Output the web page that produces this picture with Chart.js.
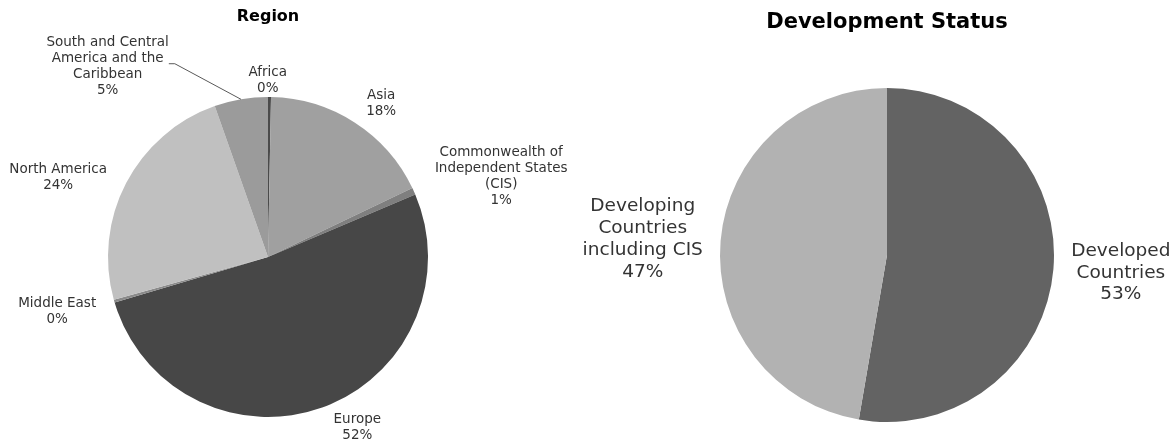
<!DOCTYPE html>
<html>
<head>
<meta charset="utf-8">
<script src="https://cdn.jsdelivr.net/npm/chart.js@4.4.1/dist/chart.umd.min.js"></script>
<style>
  html, body { margin: 0; padding: 0; background: #fff; }
  #wrap { position: relative; width: 1173px; height: 443px; overflow: hidden; }
  #regionChart { position: absolute; left: 0; top: 0; }
  #statusChart { position: absolute; left: 580px; top: 0; }
</style>
</head>
<body>
<div id="wrap">
  <canvas id="regionChart" width="580" height="443"></canvas>
  <canvas id="statusChart" width="593" height="443"></canvas>
</div>
<script>
// Data (shares in %)
const regionNames = [
  "Africa",
  "Asia",
  "Commonwealth of\nIndependent States\n(CIS)",
  "Europe",
  "Middle East",
  "North America",
  "South and Central\nAmerica and the\nCaribbean"
];
const regionShares = [0.3, 17.6, 0.7, 51.8, 0.3, 23.9, 5.4];
const regionColors = ["#4a4a4a", "#a0a0a0", "#7f7f7f", "#474747", "#8a8a8a", "#c0c0c0", "#9b9b9b"];

const statusNames = ["Developed\nCountries", "Developing\nCountries\nincluding CIS"];
const statusShares = [52.7, 47.3];
const statusColors = ["#636363", "#b2b2b2"];

const FONT = '"DejaVu Sans", Verdana, sans-serif';

// Excel-style outside labels: name + rounded percent, placed beyond the arc
const outsideLabels = {
  id: "outsideLabels",
  afterDatasetsDraw(chart, args, opts) {
    const ctx = chart.ctx;
    const meta = chart.getDatasetMeta(0);
    const values = chart.data.datasets[0].data;
    const total = values.reduce((a, b) => a + b, 0);
    const lh = opts.lineHeight;
    ctx.save();
    ctx.font = opts.size + "px " + FONT;
    ctx.fillStyle = "#333333";
    ctx.textAlign = "center";
    ctx.textBaseline = "middle";
    meta.data.forEach((arc, i) => {
      const p = arc.getProps(["x", "y", "startAngle", "endAngle", "outerRadius"], true);
      const mid = (p.startAngle + p.endAngle) / 2;
      const cos = Math.cos(mid), sin = Math.sin(mid);
      const lines = chart.data.labels[i].split("\n");
      lines.push(Math.round(values[i] / total * 100) + "%");
      const w = Math.max(...lines.map(t => ctx.measureText(t).width));
      const h = lines.length * lh;
      const d = p.outerRadius + opts.gap;
      const nudge = (opts.nudge && opts.nudge[i]) || [0, 0];
      const cx = p.x + cos * d + cos * w / 2 + nudge[0];
      const cy = p.y + sin * d + sin * h / 2 + nudge[1];
      const top = cy - h / 2;
      lines.forEach((t, k) => ctx.fillText(t, cx, top + lh * k + lh / 2));

      if (opts.leader && opts.leader[i]) {
        const ex = p.x + cos * p.outerRadius;
        const ey = p.y + sin * p.outerRadius;
        const right = cx + w / 2;
        const ly = top + lh * 1.8;
        ctx.strokeStyle = "#595959";
        ctx.lineWidth = 1;
        ctx.beginPath();
        ctx.moveTo(ex, ey);
        ctx.lineTo(right + 6, ly);
        ctx.lineTo(right, ly);
        ctx.stroke();
      }
    });
    ctx.restore();
  }
};

function pieConfig(names, shares, colors, o) {
  return {
    type: "pie",
    data: {
      labels: names,
      datasets: [{
        data: shares,
        backgroundColor: colors,
        borderWidth: 0
      }]
    },
    options: {
      responsive: false,
      animation: false,
      layout: { padding: o.padding },
      plugins: {
        legend: { display: false },
        tooltip: { enabled: false },
        title: {
          display: true,
          text: o.title,
          color: "#000",
          font: { family: FONT, size: o.titleSize, weight: "bold" },
          padding: o.titlePadding
        },
        outsideLabels: o.labels
      }
    },
    plugins: [outsideLabels]
  };
}

new Chart(document.getElementById("regionChart"), pieConfig(regionNames, regionShares, regionColors, {
  title: "Region",
  titleSize: 16,
  titlePadding: { top: 7.4, bottom: 70.4 },
  padding: { left: 108, right: 152, top: 0, bottom: 26 },
  labels: {
    size: 13.5,
    lineHeight: 16,
    gap: 12,
    nudge: [[-2, 11], [12, 5], [16, 3], [23, -6], [-8, 3], [-14, 7], [-121, 11]],
    leader: [false, false, false, false, false, false, true]
  }
}));

new Chart(document.getElementById("statusChart"), pieConfig(statusNames, statusShares, statusColors, {
  title: "Development Status",
  titleSize: 21,
  titlePadding: { top: 10.4, bottom: 52.4 },
  padding: { left: 140, right: 119, top: 0, bottom: 21 },
  labels: {
    size: 18.5,
    lineHeight: 21.7,
    gap: 12,
    nudge: [[6, 0], [-6, 3]]
  }
}));
</script>
</body>
</html>
